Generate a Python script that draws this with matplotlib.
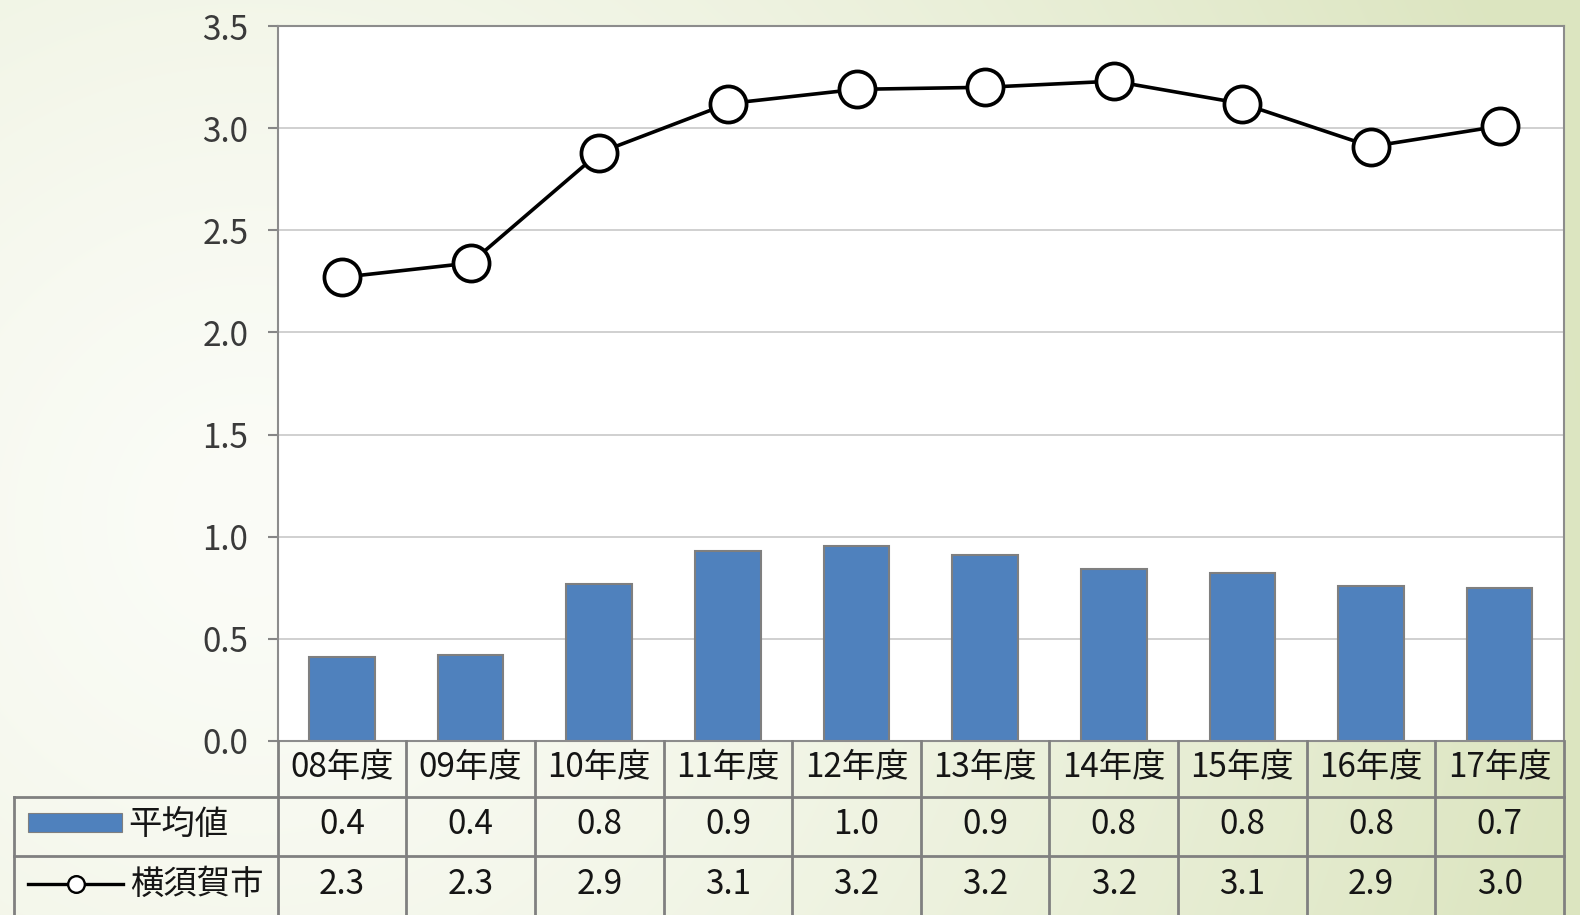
import numpy as np
import matplotlib
matplotlib.use("Agg")
import matplotlib.pyplot as plt
from matplotlib.transforms import blended_transform_factory
from matplotlib.patches import Rectangle
from matplotlib.lines import Line2D

plt.rcParams['font.family'] = ['Noto Sans CJK JP', 'DejaVu Sans']

# ---- data ----
years = ["08年度", "09年度", "10年度", "11年度", "12年度",
         "13年度", "14年度", "15年度", "16年度", "17年度"]
average = [0.41, 0.42, 0.77, 0.93, 0.953, 0.91, 0.84, 0.82, 0.76, 0.748]
yokosuka = [2.27, 2.34, 2.88, 3.12, 3.19, 3.20, 3.23, 3.12, 2.91, 3.01]
series_names = ["平均値", "横須賀市"]
yticks = [0.0, 0.5, 1.0, 1.5, 2.0, 2.5, 3.0, 3.5]

BAR_COLOR = "#4f81bd"
GRID_GRAY = "#808080"

W, H = 1580, 915
fig = plt.figure(figsize=(W / 100, H / 100), dpi=100)


def fx(px):
    return px / W


def fy(py):
    return 1 - py / H


# soft radial backdrop, pale centre fading to light green
bg = fig.add_axes([0, 0, 1, 1], zorder=-10)
yy, xx = np.mgrid[0:H, 0:W]
t = np.clip(np.hypot(xx - 250, yy - 520) / 1350, 0, 1) ** 1.4
c0 = np.array([251, 252, 247]) / 255
c1 = np.array([220, 229, 192]) / 255
img = c0 * (1 - t[..., None]) + c1 * t[..., None]
bg.imshow(img, extent=[0, 1, 0, 1], aspect="auto", origin="upper")
bg.axis("off")

# ---- main plot area ----
left, right, top, bottom = 277.7, 1564, 26, 741
ax = fig.add_axes([fx(left), fy(bottom), fx(right) - fx(left), fy(top) - fy(bottom)])
ax.set_facecolor("white")

x = np.arange(len(years))
ax.bar(x, average, width=0.51, color=BAR_COLOR, edgecolor="#7f7f7f",
       linewidth=1.5, zorder=2)
ax.plot(x, yokosuka, color="black", lw=2.6, marker="o", ms=26,
        mfc="white", mec="black", mew=2.7, zorder=3, clip_on=False)

ax.set_xlim(-0.5, len(years) - 0.5)
ax.set_ylim(0, 3.5)
ax.set_xticks([])
ax.set_yticks(yticks)
ax.set_yticklabels([f"{v:.1f}" for v in yticks])
ax.tick_params(axis="y", length=7.2, width=1.5, color="#868686", pad=14,
               labelsize=24, labelcolor="#3a3a3a")
ax.yaxis.grid(True, color="#d0d0d0", lw=1.4)
ax.set_axisbelow(True)
for s in ax.spines.values():
    s.set_color("#8c8c8c")
    s.set_linewidth(1.5)

# ---- data table beneath the axis ----
tr = blended_transform_factory(ax.transData, fig.transFigure)
row_edges = [741, 797, 856, 915]
table_left = 14.3
line_kw = dict(color=GRID_GRAY, lw=2.0, zorder=4)

for i in range(len(years) + 1):
    xb = i - 0.5
    fig.add_artist(Line2D([xb, xb], [fy(row_edges[0]), fy(row_edges[-1])],
                          transform=tr, **line_kw))
fig.add_artist(Line2D([fx(table_left), fx(table_left)],
                      [fy(row_edges[1]), fy(row_edges[-1])],
                      transform=fig.transFigure, **line_kw))
for ry in row_edges[1:3]:
    fig.add_artist(Line2D([fx(table_left), fx(right)], [fy(ry), fy(ry)],
                          transform=fig.transFigure, **line_kw))

text_kw = dict(fontsize=24, color="#151515", ha="center", va="center", zorder=5)
hdr_y = fy(768)
row1_y = fy(824)
row2_y = fy(884)
for i, yr in enumerate(years):
    fig.text(i, hdr_y, yr, transform=tr, **text_kw)
    fig.text(i, row1_y, f"{average[i]:.1f}", transform=tr, **text_kw)
    fig.text(i, row2_y, f"{yokosuka[i]:.1f}", transform=tr, **text_kw)

# legend keys in the row-header column
fig.add_artist(Rectangle((fx(27.7), fy(831.7)), fx(121.7) - fx(27.7),
                         fy(813) - fy(831.7), transform=fig.transFigure,
                         facecolor=BAR_COLOR, edgecolor="#7f7f7f", lw=0.8,
                         zorder=5))
fig.add_artist(Line2D([fx(28), fx(123)], [row2_y, row2_y],
                      transform=fig.transFigure, color="black", lw=2.4,
                      marker=None, zorder=5))
fig.add_artist(Line2D([fx(75.5)], [row2_y], transform=fig.transFigure,
                      ls="none", marker="o", ms=12, mfc="white", mec="black",
                      mew=1.7, zorder=6))
name_kw = dict(fontsize=24, color="#151515", ha="left", va="center", zorder=5)
fig.text(fx(128), row1_y, series_names[0], **name_kw)
fig.text(fx(130), row2_y, series_names[1], **name_kw)

fig.savefig("out.png", dpi=100)
